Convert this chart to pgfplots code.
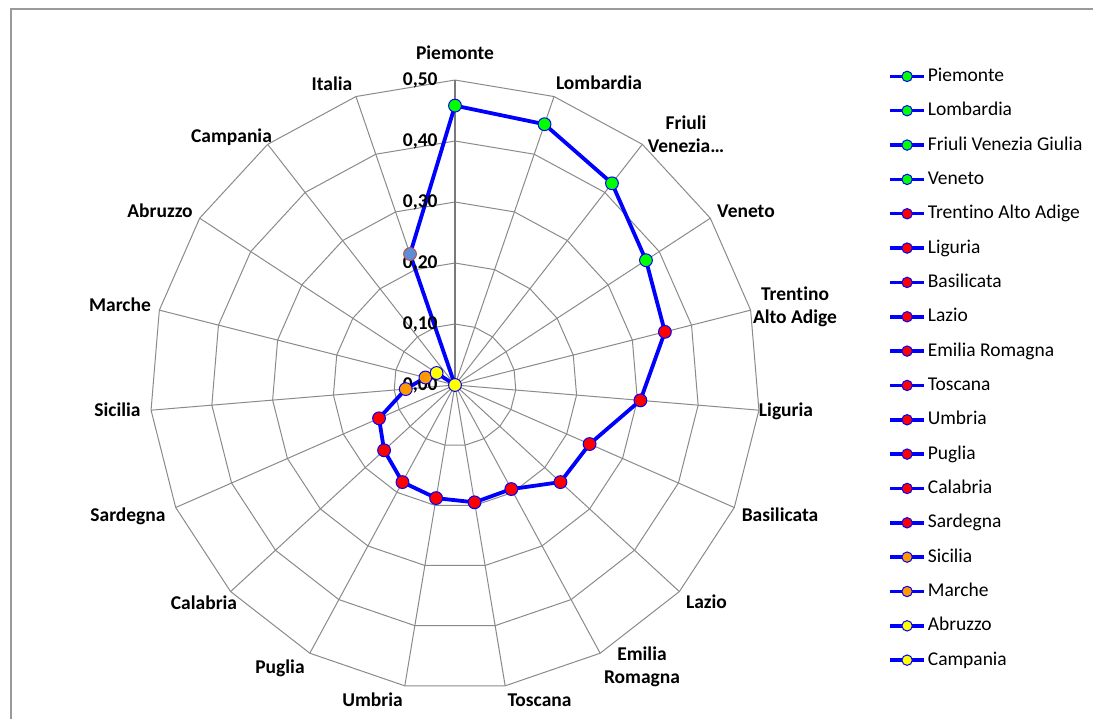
\documentclass[border=0pt]{standalone}
\usepackage{pgfplots}
\usepackage{pgfplotstable}
\pgfplotsset{compat=1.18}
\usepgfplotslibrary{polar}
\usepackage{fontspec}
\setmainfont{Carlito}[Ligatures=NoCommon]
\definecolor{gridgray}{HTML}{8A8A8A}
\definecolor{axgray}{HTML}{7A7A7A}
\definecolor{framegray}{HTML}{9A9A9A}
\definecolor{mkgreen}{HTML}{00FF00}
\definecolor{mkred}{HTML}{FF0000}
\definecolor{mkorange}{HTML}{FF9900}
\definecolor{mkyellow}{HTML}{FFFF00}
\definecolor{itfill}{HTML}{5B8ED6}
\definecolor{itdraw}{HTML}{C0504D}

% angle (deg), value, marker class
\pgfplotstableread{
ang val cls
90 0.458 g
71.0526 0.452 g
52.1053 0.419 g
33.1579 0.374 g
14.2105 0.355 r
355.2632 0.305 r
336.3158 0.241 r
317.3684 0.235 r
298.4211 0.194 r
279.4737 0.195 r
260.5263 0.188 r
241.5789 0.181 r
222.6316 0.158 r
203.6842 0.136 r
184.7368 0.081 o
165.7895 0.050 o
146.8421 0.036 y
127.8947 0.000 y
108.9474 0.227 b
}\datatab

\pgfplotstableread{
ang one
90 1
71.0526 1
52.1053 1
33.1579 1
14.2105 1
355.2632 1
336.3158 1
317.3684 1
298.4211 1
279.4737 1
260.5263 1
241.5789 1
222.6316 1
203.6842 1
184.7368 1
165.7895 1
146.8421 1
127.8947 1
108.9474 1
90 1
}\angtab

\tikzset{vlab/.style={anchor=east, xshift=-8.5pt, inner sep=0pt, font=\bfseries\fontsize{9.75}{11.5}\selectfont}}

\begin{document}
\begin{tikzpicture}
\useasboundingbox (-227.5pt,-166.5pt) rectangle (319pt,192.5pt);
\draw[framegray, line width=0.9pt] (-222pt,-175pt) -- (-222pt,188pt) -- (330pt,188pt);
\begin{polaraxis}[
  at={(0pt,0pt)}, anchor=center,
  scale only axis, width=305pt, height=305pt,
  ymin=0, ymax=0.5, clip=false, hide axis,
  leg/.style={blue, line width=1.75pt, mark=*, mark size=2.6pt,
    mark options={draw=blue, fill=#1, line width=0.5pt}},
  legend image code/.code={\draw[mark repeat=2,mark phase=2,#1] plot coordinates {(0pt,0pt) (8.5pt,0pt) (17pt,0pt)};},
  legend cell align=left,
  legend style={at={(axis description cs:1.2098,1.023)}, anchor=north west,
    draw=none, fill=none, inner sep=0pt, row sep=7.17pt, column sep=0.5pt,
    font=\fontsize{9.75}{11.5}\selectfont,
    nodes={inner sep=0.5pt, text height=7pt, text depth=2pt}},
]
% spokes
\pgfplotsinvokeforeach{71.0526,52.1053,33.1579,14.2105,355.2632,336.3158,317.3684,298.4211,279.4737,260.5263,241.5789,222.6316,203.6842,184.7368,165.7895,146.8421,127.8947,108.9474}{
  \addplot[gridgray, line width=0.5pt, forget plot] coordinates {(#1,0) (#1,0.5)};
}
% rings
\pgfplotsinvokeforeach{0.1,0.2,0.3,0.4,0.5}{
  \addplot[gridgray, line width=0.5pt, forget plot] table[x=ang, y expr={#1*\thisrow{one}}] {\angtab};
}
% value axis
\addplot[axgray, line width=0.9pt, forget plot] coordinates {(90,0) (90,0.5)};
% data
\addplot[blue, line width=1.9pt, line join=round, forget plot] table[x=ang, y=val] {\datatab} -- cycle;
\addplot[scatter, only marks, forget plot, scatter src=explicit symbolic,
  scatter/classes={
    g={mark=*, mark size=3.2pt, draw=blue, fill=mkgreen, line width=0.5pt},
    r={mark=*, mark size=3.2pt, draw=blue, fill=mkred, line width=0.5pt},
    o={mark=*, mark size=3.2pt, draw=blue, fill=mkorange, line width=0.5pt},
    y={mark=*, mark size=3.2pt, draw=blue, fill=mkyellow, line width=0.5pt},
    b={mark=*, mark size=3.2pt, draw=itdraw, fill=itfill, line width=0.5pt}}]
  table[x=ang, y=val, meta=cls] {\datatab};
% value labels
\node[vlab] at (axis cs:90,0) {0,00};
\node[vlab] at (axis cs:90,0.1) {0,10};
\node[vlab] at (axis cs:90,0.2) {0,20};
\node[vlab] at (axis cs:90,0.3) {0,30};
\node[vlab] at (axis cs:90,0.4) {0,40};
\node[vlab] at (axis cs:90,0.5) {0,50};
% legend
\addlegendimage{leg=mkgreen}\addlegendentry{Piemonte}
\addlegendimage{leg=mkgreen}\addlegendentry{Lombardia}
\addlegendimage{leg=mkgreen}\addlegendentry{Friuli Venezia Giulia}
\addlegendimage{leg=mkgreen}\addlegendentry{Veneto}
\addlegendimage{leg=mkred}\addlegendentry{Trentino Alto Adige}
\addlegendimage{leg=mkred}\addlegendentry{Liguria}
\addlegendimage{leg=mkred}\addlegendentry{Basilicata}
\addlegendimage{leg=mkred}\addlegendentry{Lazio}
\addlegendimage{leg=mkred}\addlegendentry{Emilia Romagna}
\addlegendimage{leg=mkred}\addlegendentry{Toscana}
\addlegendimage{leg=mkred}\addlegendentry{Umbria}
\addlegendimage{leg=mkred}\addlegendentry{Puglia}
\addlegendimage{leg=mkred}\addlegendentry{Calabria}
\addlegendimage{leg=mkred}\addlegendentry{Sardegna}
\addlegendimage{leg=mkorange}\addlegendentry{Sicilia}
\addlegendimage{leg=mkorange}\addlegendentry{Marche}
\addlegendimage{leg=mkyellow}\addlegendentry{Abruzzo}
\addlegendimage{leg=mkyellow}\addlegendentry{Campania}
\end{polaraxis}
\begin{scope}[x=0.5pt, y=0.5pt, every node/.style={font=\bfseries\fontsize{9.75}{11.5}\selectfont, align=center, inner sep=0pt}]
\node at (0,332) {Piemonte};
\node at (144,302) {Lombardia};
\node at (231,251) {Friuli\\Venezia…};
\node at (291,174) {Veneto};
\node at (340,78) {Trentino\\Alto Adige};
\node at (331,-26) {Liguria};
\node at (325,-130) {Basilicata};
\node at (251.5,-217) {Lazio};
\node at (187,-281.5) {Emilia\\Romagna};
\node at (84.5,-315) {Toscana};
\node at (-82.5,-315) {Umbria};
\node at (-175,-283) {Puglia};
\node at (-251,-218) {Calabria};
\node at (-327,-131) {Sardegna};
\node at (-337.5,-25) {Sicilia};
\node at (-335,80) {Marche};
\node at (-295,174) {Abruzzo};
\node at (-223.5,248) {Campania};
\node at (-123,301) {Italia};
\end{scope}
\end{tikzpicture}
\end{document}
